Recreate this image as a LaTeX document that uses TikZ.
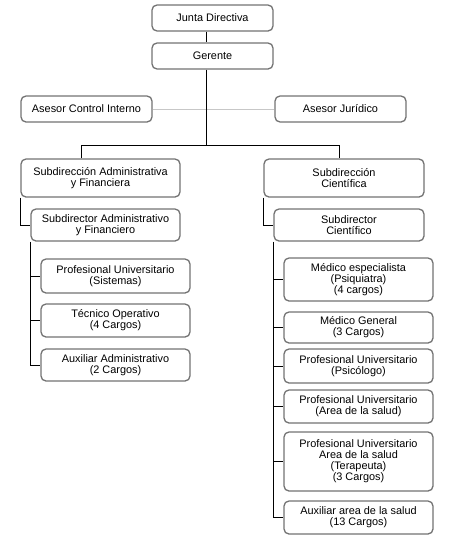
\documentclass[tikz,border=0pt]{standalone}
\usepackage{fontspec}
\setmainfont{Liberation Sans}
\begin{document}
\begin{tikzpicture}[x=1pt,y=-1pt,
  box/.style={draw=black!55, line width=1.3pt, rounded corners=5pt, fill=white,
    align=center, inner sep=0pt, font=\fontsize{10.9}{11.1}\selectfont},
  conn/.style={draw=black, line width=0.9pt},
  light/.style={draw=black!22, line width=0.9pt}]
\useasboundingbox (0,0) rectangle (450,555);
% coordinates for connector routing
\coordinate (trunk) at (206,145);
\coordinate (lbar) at (81,145);
\coordinate (rbar) at (339,145);
% boxes
\node[box, minimum width=121, minimum height=26] (jd) at (212.5,18) {Junta Directiva};
\node[box, minimum width=121, minimum height=26] (ger) at (212.5,56) {Gerente};
\node[box, minimum width=131, minimum height=26] (aci) at (86.5,109) {Asesor Control Interno};
\node[box, minimum width=131, minimum height=26] (aj) at (340.5,109) {Asesor Jurídico};
\node[box, minimum width=159, minimum height=38] (sa) at (100.5,178) {Subdirección Administrativa\\y Financiera};
\node[box, minimum width=149, minimum height=32] (sda) at (105.5,225) {Subdirector Administrativo\\y Financiero};
\node[box, minimum width=149, minimum height=34] (pus) at (115.5,276) {Profesional Universitario\\(Sistemas)};
\node[box, minimum width=149, minimum height=33] (to) at (115.5,320.5) {Técnico Operativo\\(4 Cargos)};
\node[box, minimum width=149, minimum height=32] (aa) at (115.5,365) {Auxiliar Administrativo\\(2 Cargos)};
\node[box, minimum width=160, minimum height=38] (sc) at (344,178) {Subdirección\\Científica};
\node[box, minimum width=150, minimum height=32] (sdc) at (349,225) {Subdirector\\Científico};
\node[box, minimum width=149, minimum height=43] (me) at (358.5,279.5) {Médico especialista\\(Psiquiatra)\\(4 cargos)};
\node[box, minimum width=149, minimum height=31] (mg) at (358.5,327.5) {Médico General\\(3 Cargos)};
\node[box, minimum width=149, minimum height=34] (pp) at (358.5,366) {Profesional Universitario\\(Psicólogo)};
\node[box, minimum width=149, minimum height=33] (pa) at (358.5,406.5) {Profesional Universitario\\(Area de la salud)};
\node[box, minimum width=149, minimum height=59] (pt) at (358.5,461.5) {Profesional Universitario\\Area de la salud\\(Terapeuta)\\(3 Cargos)};
\node[box, minimum width=149, minimum height=33] (aux) at (358.5,517.5) {Auxiliar area de la salud\\(13 Cargos)};
% connectors
\draw[light] (aci.east) -- (aj.west);
\draw[conn] (jd.south -| trunk) -- (ger.north -| trunk);
\draw[conn] (ger.south -| trunk) -- (trunk);
\draw[conn] (sa.north -| lbar) -- (lbar) -- (rbar) -- (sc.north -| rbar);
\draw[conn] (sa.south west) -- (sa.south west |- sda.west) -- (sda.west);
\draw[conn] (sda.south west) -- (sda.south west |- aa.west) -- (aa.west);
\draw[conn] (sda.south west |- pus.west) -- (pus.west);
\draw[conn] (sda.south west |- to.west) -- (to.west);
\draw[conn] (sc.south west) -- (sc.south west |- sdc.west) -- (sdc.west);
\draw[conn] (sdc.south west) -- (sdc.south west |- aux.west) -- (aux.west);
\draw[conn] (sdc.south west |- me.west) -- (me.west);
\draw[conn] (sdc.south west |- mg.west) -- (mg.west);
\draw[conn] (sdc.south west |- pp.west) -- (pp.west);
\draw[conn] (sdc.south west |- pa.west) -- (pa.west);
\draw[conn] (sdc.south west |- pt.west) -- (pt.west);
\end{tikzpicture}
\end{document}
